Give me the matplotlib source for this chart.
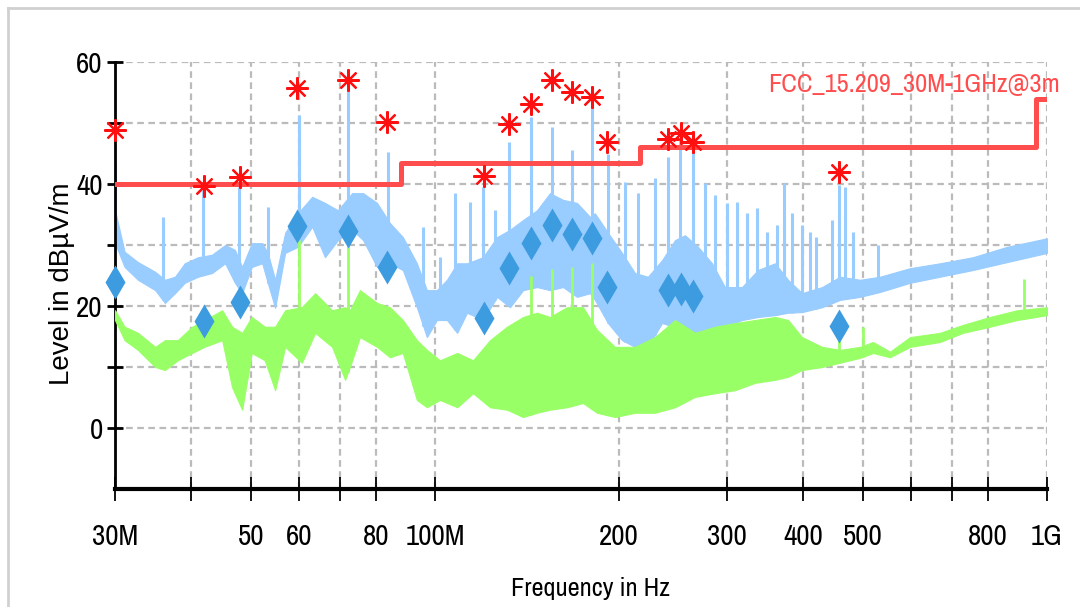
import numpy as np
import matplotlib
matplotlib.use("Agg")
import matplotlib.pyplot as plt
from matplotlib import font_manager
from matplotlib.lines import Line2D

# fuente estrecha: la primera que exista
nombres = {f.name for f in font_manager.fontManager.ttflist}
candidatas = ["Arial Narrow", "Liberation Sans Narrow", "Archivo Narrow", "PT Sans Narrow",
              "Pragati Narrow", "Roboto Condensed", "Open Sans Condensed",
              "Fira Sans Condensed", "IBM Plex Sans Condensed", "Sofia Sans Condensed",
              "Asap Condensed", "Encode Sans Condensed", "Barlow Semi Condensed"]
narrow = next((c for c in candidatas if c in nombres), "Liberation Sans")

# ---- datos (MHz, dBuV/m) ----
# traza pico (azul claro): envolvente inferior / superior
blue_f = [30.0, 31.1, 32.7, 34.9, 36.2, 37.6, 39.0, 41.0, 43.2, 45.4, 47.1, 48.4, 50.2,
          52.2, 53.3, 54.8, 56.9, 59.7, 63.0, 66.1, 69.4, 73.2, 76.3, 80.4, 84.4, 88.6,
          93.4, 97.0, 100.7, 104.6, 108.7, 112.8, 119.8, 126.3, 132.6, 139.3, 146.8,
          154.1, 161.9, 170.6, 179.2, 182.5, 191.7, 202.1, 212.2, 222.8, 234.9, 246.7,
          256.1, 269.0, 283.6, 297.7, 317.4, 337.1, 359.4, 377.5, 397.8, 429.0, 459.0,
          494.8, 533.5, 597.3, 668.5, 756.9, 860.5, 1000.0]
blue_lo = [30.3, 26.4, 24.3, 22.6, 20.5, 22.1, 23.8, 24.8, 25.4, 27.0, 23.8, 22.1, 26.4,
           27.0, 23.8, 19.7, 28.7, 29.7, 33.0, 28.0, 30.8, 32.5, 30.8, 26.4, 27.0, 25.9,
           19.8, 14.9, 17.7, 17.7, 15.6, 18.9, 17.7, 21.5, 19.8, 22.6, 23.1,
           22.6, 23.1, 21.5, 22.1, 21.0, 17.2, 14.4, 13.3, 13.3, 17.2, 16.6,
           16.1, 15.6, 16.1, 16.6, 17.7, 18.2, 18.5, 18.9, 19.0, 19.8, 21.0,
           21.5, 22.3, 23.8, 24.8, 25.9, 27.2, 28.7]
blue_hi = [35.7, 28.9, 27.2, 25.6, 24.3, 24.8, 27.0, 28.0, 28.4, 30.0, 29.2, 26.4, 30.3,
           30.3, 28.7, 24.3, 32.0, 35.2, 37.9, 36.9, 35.7, 38.5, 38.5, 36.9, 33.6, 31.3,
           27.0, 22.6, 22.6, 24.3, 27.0, 27.0, 28.0, 31.3, 32.5, 34.1, 35.7,
           38.5, 37.4, 36.9, 34.6, 35.2, 32.0, 28.7, 25.4, 24.8, 27.5, 30.8,
           31.6, 29.7, 27.0, 23.1, 23.1, 25.9, 27.0, 24.3, 22.1, 23.1, 24.8,
           24.3, 24.8, 26.2, 27.0, 28.0, 29.7, 31.1]

# picos estrechos de la traza azul
spike_f = [30.0, 35.9, 41.8, 47.8, 53.3, 59.9, 72.1, 83.8, 95.6, 101.9, 107.8, 114.1,
           119.8, 125.3, 132.0, 143.5, 155.3, 167.4, 180.5, 191.7, 204.4, 214.6, 228.8,
           240.3, 251.4, 264.0, 276.0, 286.8, 300.0, 311.5, 323.4, 335.8, 348.8, 362.0,
           371.8, 383.2, 397.8, 409.9, 419.3, 445.3, 457.0, 467.7, 482.0, 529.5]
spike_db = [43.6, 34.6, 39.0, 39.5, 36.2, 51.3, 55.4, 45.2, 33.0, 28.0, 38.5, 37.0,
            39.5, 35.7, 46.9, 51.0, 49.3, 45.6, 52.6, 45.0, 40.3, 38.5, 41.0,
            44.4, 47.2, 45.6, 40.2, 38.2, 36.9, 37.0, 35.2, 36.0, 32.1, 33.3,
            40.2, 35.2, 33.3, 32.1, 31.3, 34.1, 39.8, 39.5, 32.1, 30.0]

# traza promedio (verde)
green_f = [30.0, 31.1, 32.7, 34.9, 36.2, 38.0, 40.1, 42.0, 44.9, 46.6, 48.4, 50.2, 52.7,
           54.8, 56.9, 60.6, 63.7, 67.9, 71.3, 72.6, 75.4, 80.4, 84.4, 88.6, 93.4, 97.0,
           101.9, 108.7, 115.4, 123.0, 131.1, 139.3, 146.8, 154.1, 164.3, 174.5, 183.9,
           196.8, 212.2, 228.8, 246.7, 266.0, 286.8, 309.2, 333.3, 359.4, 377.5, 397.8,
           429.0, 459.0, 494.8, 519.7, 553.9, 597.3, 668.5, 728.9, 806.9, 893.3, 1000.0]
green_lo = [17.7, 14.4, 12.8, 10.0, 9.5, 11.1, 12.3, 13.3, 14.4, 6.7, 3.0, 12.3, 11.1,
            6.2, 13.3, 10.7, 15.6, 13.3, 7.9, 10.0, 14.9, 13.3, 11.6, 12.3, 4.6, 3.4,
            4.6, 3.4, 5.7, 3.4, 3.0, 1.8, 2.5, 3.0, 3.4, 4.1, 2.5,
            1.8, 2.5, 2.5, 3.4, 5.1, 5.7, 6.2, 7.4, 7.9, 8.4, 9.5,
            10.0, 10.7, 11.5, 12.3, 11.6, 13.3, 14.1, 15.6, 16.6, 17.7, 18.5]
green_hi = [19.3, 16.6, 15.6, 13.3, 14.4, 14.4, 16.6, 17.7, 19.3, 16.6, 15.6, 18.2, 16.6,
            16.6, 19.3, 19.8, 22.1, 19.3, 19.8, 19.3, 22.6, 20.5, 19.8, 17.7, 14.4, 12.8,
            11.1, 12.3, 11.1, 14.4, 16.6, 18.2, 18.9, 18.2, 19.8, 19.8, 16.1,
            13.3, 13.3, 14.9, 17.7, 15.6, 16.6, 17.2, 17.7, 18.2, 17.7, 14.9,
            13.3, 12.8, 13.3, 14.1, 12.5, 14.9, 15.6, 16.9, 18.2, 19.3, 19.8]

gspike_f = [59.9, 72.1, 143.5, 155.3, 167.4, 180.5, 457.0, 500.4, 917.0]
gspike_db = [30.8, 30.8, 25.0, 26.0, 26.4, 27.0, 14.5, 16.5, 24.4]

# limite FCC
limit_f = [30, 88, 216, 960, 1000]
limit_db = [40, 43.5, 46, 54, 54]

# puntos finales: pico (asterisco) y cuasi-pico (rombo)
peak_f = [30.0, 42.0, 48.0, 59.6, 72.1, 83.5, 120.2, 132.1, 143.5, 155.3, 167.4,
          180.5, 191.0, 240.3, 252.4, 264.0, 457.0]
peak_db = [48.9, 39.7, 41.1, 55.7, 57.0, 50.2, 41.3, 49.8, 53.1, 57.0, 55.1,
           54.3, 46.9, 47.4, 48.4, 46.9, 42.0]
qp_db = [23.9, 17.5, 20.7, 33.1, 32.3, 26.4, 18.0, 26.2, 30.3, 33.3, 31.8,
         31.1, 23.1, 22.6, 22.8, 21.6, 16.7]

xticks = [30, 40, 50, 60, 70, 80, 100, 200, 300, 400, 500, 600, 700, 800, 1000]
xlabels = ["30M", "", "50", "60", "", "80", "100M", "200", "300", "400", "500",
           "", "", "800", "1G"]
yticks = [0, 10, 20, 30, 40, 50, 60]
ylabels = ["0", "", "20", "", "40", "", "60"]

M = 1e6
c_blue = "#99ccff"
c_green = "#99ff66"
c_limit = "#ff4d4d"

fig = plt.figure(figsize=(10.8, 6.07), dpi=100)
ax = fig.add_axes([115 / 1080, 1 - 489 / 607, 932 / 1080, 427 / 607])
ax.set_xscale("log")

bf = np.array(blue_f) * M
ax.fill_between(bf, blue_lo, blue_hi, color=c_blue, lw=0.8, edgecolor=c_blue, zorder=2)
sf = np.array(spike_f) * M
base = np.interp(np.log10(sf), np.log10(bf), blue_lo)
ax.vlines(sf, base, spike_db, color=c_blue, lw=2.2, zorder=2)

gf = np.array(green_f) * M
ax.fill_between(gf, green_lo, green_hi, color=c_green, lw=0.8, edgecolor=c_green, zorder=3)
gsf = np.array(gspike_f) * M
gbase = np.interp(np.log10(gsf), np.log10(gf), green_lo)
ax.vlines(gsf, gbase, gspike_db, color=c_green, lw=2.0, zorder=3)

ax.plot(np.array(limit_f) * M, limit_db, drawstyle="steps-post", color=c_limit,
        lw=3.6, zorder=4)
ax.text(1.014, 55.1, "FCC_15.209_30M-1GHz@3m", transform=ax.get_yaxis_transform(),
        ha="right", va="baseline", color=c_limit, fontsize=19, family=narrow)

ax.plot(np.array(peak_f) * M, peak_db, ls="none", marker=(8, 2, 0), ms=16, mew=1.6,
        color="#ff1010", zorder=5, clip_on=False)
ax.plot(np.array(peak_f) * M, qp_db, ls="none", marker="d", ms=17, color="#3d9be0",
        mec="none", zorder=5, clip_on=False)

ax.set_xlim(30 * M, 1000 * M)
ax.set_ylim(-10, 60)
ax.xaxis.set_minor_locator(matplotlib.ticker.NullLocator())
ax.set_xticks(np.array(xticks) * M)
ax.set_xticklabels(xlabels, family=narrow, fontsize=21)
ax.set_yticks(yticks)
ax.set_yticklabels(ylabels, family=narrow, fontsize=21)
ax.tick_params(axis="x", direction="inout", length=17, width=1.3, pad=16)
ax.tick_params(axis="y", direction="inout", length=11.5, width=2, pad=3)
ax.grid(True, color="#bbbbbb", ls=(0, (3, 2)), lw=1.6)
ax.set_axisbelow(True)
for s in ["top", "right"]:
    ax.spines[s].set_visible(False)
ax.spines["left"].set_linewidth(2)
ax.spines["bottom"].set_linewidth(3)

ax.set_xlabel("Frequency in Hz", family=narrow, fontsize=19, va="center")
ax.xaxis.set_label_coords(0.51, -0.234)
ax.set_ylabel("Level in dB\u00b5V/m", family="Liberation Sans", fontsize=20, va="center")
ax.yaxis.set_label_coords(-0.057, 0.48)

# marco gris claro de la figura
fig.add_artist(Line2D([8 / 1080, 8 / 1080], [0, 1 - 8 / 607], transform=fig.transFigure,
                      color="#d0d0d0", lw=2))
fig.add_artist(Line2D([8 / 1080, 1], [1 - 8 / 607, 1 - 8 / 607], transform=fig.transFigure,
                      color="#d0d0d0", lw=2))

fig.savefig("out.png", dpi=100)
